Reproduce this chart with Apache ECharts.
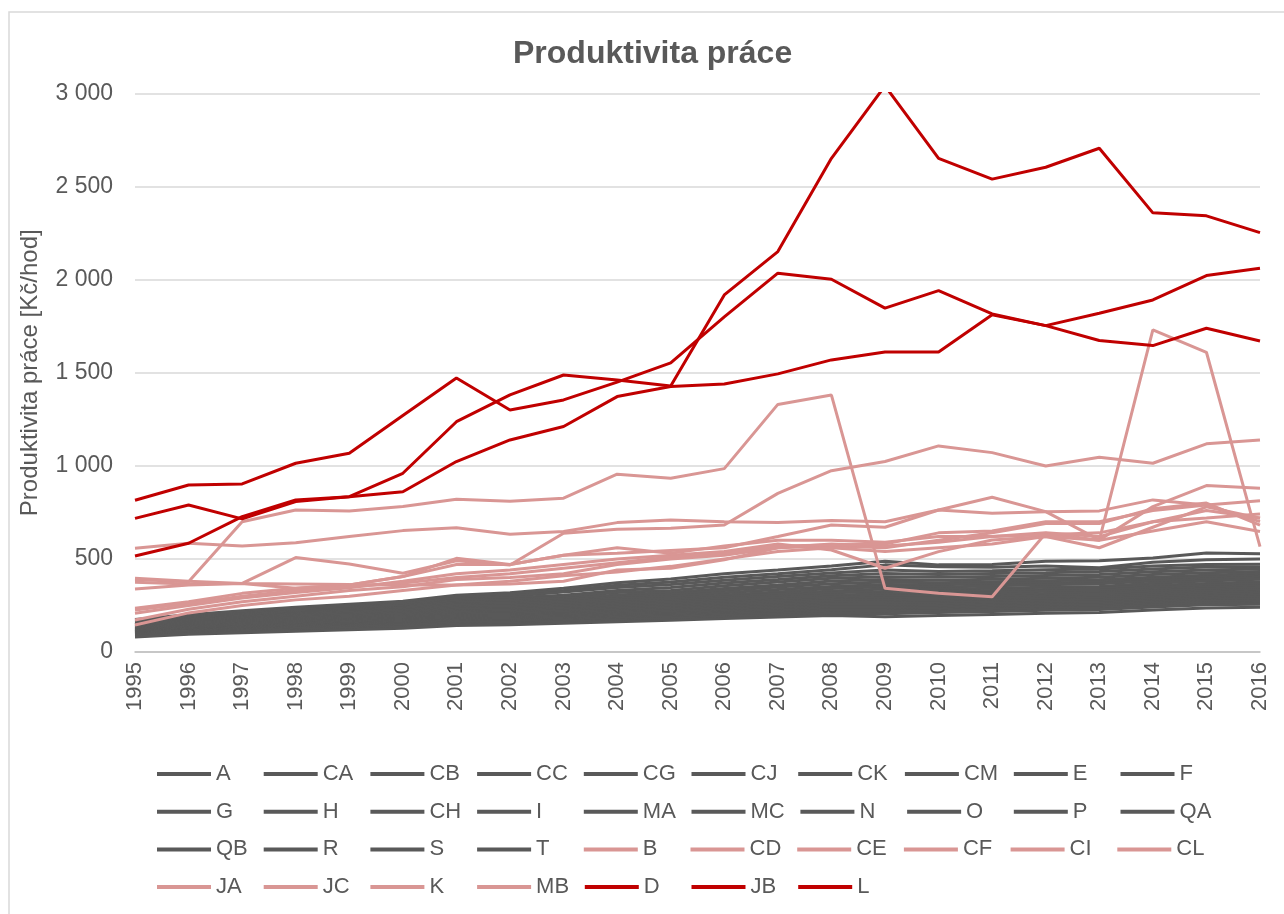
<!DOCTYPE html>
<html>
<head>
<meta charset="utf-8">
<title>Produktivita práce</title>
<script src="https://cdn.jsdelivr.net/npm/echarts@6/dist/echarts.min.js"></script>
<style>
  html, body { margin: 0; padding: 0; background: #fff; }
  #chart { width: 1284px; height: 914px; }
</style>
</head>
<body>
<div id="chart"></div>
<script>
// roky
var years = ["1995","1996","1997","1998","1999","2000","2001","2002","2003","2004","2005",
  "2006","2007","2008","2009","2010","2011","2012","2013","2014","2015","2016"];

// sedive obory
var greyNames = ["A","CA","CB","CC","CG","CJ","CK","CM","E","F","G","H","CH","I","MA","MC","N","O","P","QA","QB","R","S","T"];
var valA  = [175, 200, 222, 240, 256, 272, 305, 318, 342, 372, 392, 420, 440, 462, 488, 468, 470, 488, 490, 505, 532, 528];
var valCA = [166, 193, 214, 233, 250, 266, 298, 312, 330, 358, 376, 402, 420, 442, 468, 458, 455, 462, 452, 482, 495, 500];
var valCB = [160, 186, 205, 226, 240, 256, 290, 300, 322, 346, 362, 386, 406, 425, 440, 432, 436, 442, 446, 462, 470, 472];
var valCC = [151, 180, 200, 218, 233, 248, 280, 291, 305, 331, 346, 371, 390, 410, 421, 416, 421, 426, 432, 446, 456, 457];
var valCG = [146, 175, 195, 210, 225, 241, 275, 281, 296, 320, 331, 356, 376, 396, 404, 401, 406, 411, 416, 431, 441, 446];
var valCJ = [140, 170, 190, 206, 220, 236, 266, 271, 286, 306, 320, 341, 360, 381, 390, 386, 391, 396, 401, 416, 426, 432];
var valCK = [136, 165, 186, 200, 213, 228, 258, 263, 276, 296, 309, 330, 349, 366, 376, 372, 378, 383, 388, 401, 412, 421];
var valCM = [130, 160, 180, 195, 206, 221, 251, 256, 268, 286, 298, 318, 336, 352, 362, 361, 366, 371, 376, 391, 401, 411];
var valE  = [126, 155, 175, 188, 199, 212, 243, 248, 260, 276, 288, 306, 322, 341, 350, 348, 356, 361, 366, 381, 391, 401];
var valF  = [122, 150, 170, 182, 192, 206, 236, 241, 252, 266, 278, 295, 311, 328, 338, 337, 342, 348, 352, 369, 381, 391];
var valG  = [118, 145, 165, 176, 186, 198, 228, 232, 245, 258, 268, 286, 301, 318, 325, 326, 331, 336, 341, 357, 368, 378];
var valH  = [115, 140, 160, 170, 180, 192, 220, 226, 236, 250, 260, 275, 291, 306, 312, 314, 318, 326, 330, 346, 358, 366];
var valCH = [112, 136, 155, 165, 175, 186, 214, 218, 228, 242, 252, 266, 280, 296, 300, 303, 307, 314, 320, 335, 348, 356];
var valI  = [110, 132, 150, 160, 170, 180, 206, 211, 221, 234, 244, 258, 271, 284, 290, 292, 297, 304, 311, 326, 338, 345];
var valMA = [107, 128, 145, 155, 165, 175, 200, 204, 213, 226, 236, 250, 262, 276, 280, 283, 288, 294, 300, 315, 328, 336];
var valMC = [104, 124, 140, 150, 160, 170, 194, 198, 206, 218, 228, 242, 254, 266, 270, 273, 278, 284, 290, 305, 318, 325];
var valN  = [102, 120, 136, 146, 155, 165, 188, 192, 200, 211, 220, 234, 246, 258, 260, 264, 270, 275, 281, 295, 308, 316];
var valO  = [100, 117, 132, 142, 150, 160, 182, 186, 194, 204, 213, 226, 238, 250, 250, 255, 260, 266, 270, 285, 298, 305];
var valP  = [ 97, 114, 128, 138, 146, 155, 176, 180, 188, 198, 206, 218, 230, 242, 242, 246, 252, 258, 262, 276, 288, 295];
var valQA = [ 95, 111, 124, 134, 142, 150, 170, 174, 182, 192, 200, 210, 222, 234, 234, 238, 244, 250, 254, 268, 280, 286];
var valQB = [ 92, 108, 120, 130, 138, 146, 164, 168, 176, 186, 194, 204, 214, 226, 226, 230, 236, 242, 246, 260, 272, 276];
var valR  = [ 90, 105, 116, 126, 134, 142, 158, 162, 170, 180, 188, 198, 206, 218, 218, 222, 228, 234, 238, 252, 264, 266];
var valS  = [ 85, 100, 110, 120, 128, 136, 150, 155, 163, 172, 180, 190, 198, 208, 206, 212, 218, 224, 228, 242, 254, 256];
var valT  = [ 80,  95, 104, 112, 120, 128, 142, 146, 154, 163, 170, 180, 188, 196, 190, 196, 202, 208, 212, 225, 236, 241];
var greyValues = [valA, valCA, valCB, valCC, valCG, valCJ, valCK, valCM, valE, valF, valG, valH,
  valCH, valI, valMA, valMC, valN, valO, valP, valQA, valQB, valR, valS, valT];

// ruzove obory
var pinkNames = ["B","CD","CE","CF","CI","CL","JA","JC","K","MB"];
var valB  = [390, 378, 700, 763, 758, 781, 820, 810, 826, 955, 933, 985, 1330, 1380, 342, 315, 297, 638, 600, 1730, 1610, 566];
var valCD = [375, 365, 369, 507, 473, 423, 490, 467, 638, 659, 665, 682, 852, 974, 1023, 1107, 1071, 999, 1046, 1014, 1118, 1139];
var valCE = [557, 584, 570, 587, 620, 652, 667, 632, 647, 695, 709, 700, 695, 706, 700, 763, 745, 754, 758, 817, 790, 813];
var valCF = [338, 360, 368, 342, 360, 405, 470, 470, 520, 530, 545, 560, 620, 682, 670, 763, 831, 754, 602, 781, 894, 880];
var valCI = [235, 270, 315, 342, 360, 405, 503, 470, 520, 560, 530, 570, 600, 600, 590, 620, 620, 640, 620, 700, 720, 741];
var valCL = [208, 250, 290, 320, 345, 380, 420, 440, 470, 500, 520, 540, 580, 548, 450, 539, 602, 620, 560, 670, 780, 718];
var valJA = [172, 230, 270, 300, 330, 350, 390, 400, 420, 470, 500, 520, 560, 570, 560, 600, 640, 690, 690, 770, 800, 682];
var valJC = [145, 210, 250, 280, 300, 330, 360, 380, 410, 430, 460, 500, 540, 560, 540, 560, 580, 620, 600, 650, 700, 647];
var valK  = [396, 380, 368, 365, 362, 360, 360, 365, 380, 440, 450, 495, 560, 580, 570, 590, 620, 630, 640, 700, 760, 720];
var valMB = [225, 260, 300, 330, 350, 370, 400, 420, 450, 480, 510, 530, 570, 575, 580, 640, 650, 700, 700, 760, 790, 700];
var pinkValues = [valB, valCD, valCE, valCF, valCI, valCL, valJA, valJC, valK, valMB];

// cervene obory
var redNames = ["D","JB","L"];
var valD  = [516, 584, 727, 817, 834, 960, 1237, 1381, 1488, 1461, 1429, 1918, 2151, 2652, 3041, 2651, 2540, 2604, 2706, 2359, 2343, 2253];
var valJB = [815, 897, 903, 1014, 1068, 1270, 1472, 1300, 1354, 1450, 1553, 1800, 2035, 2002, 1847, 1941, 1816, 1753, 1673, 1646, 1739, 1671];
var valL  = [718, 790, 715, 808, 834, 861, 1023, 1139, 1211, 1372, 1426, 1440, 1494, 1569, 1612, 1612, 1811, 1753, 1820, 1891, 2022, 2061];
var redValues = [valD, valJB, valL];

var textColor = "#595959";
var fontName = "Liberation Sans, Arial, sans-serif";

function makeSeries(names, values, color) {
  return names.map(function (n, i) {
    return {
      name: n,
      type: "line",
      data: values[i],
      symbol: "none",
      lineStyle: { color: color, width: 3 },
      itemStyle: { color: color },
      emphasis: { disabled: true }
    };
  });
}

var series = []
  .concat(makeSeries(greyNames, greyValues, "#595959"))
  .concat(makeSeries(pinkNames, pinkValues, "#D99694"))
  .concat(makeSeries(redNames, redValues, "#C00000"));

var chart = echarts.init(document.getElementById("chart"));
chart.setOption({
  animation: false,
  backgroundColor: "#fff",
  textStyle: { fontFamily: fontName },
  graphic: [{
    type: "rect",
    shape: { x: 9, y: 12, width: 1300, height: 930 },
    style: { fill: "none", stroke: "#D9D9D9", lineWidth: 1.5 },
    silent: true
  }],
  title: {
    text: "Produktivita práce",
    left: 508,
    top: 33,
    textStyle: { color: textColor, fontSize: 32, fontWeight: "bold", fontFamily: fontName }
  },
  grid: { left: 135, right: 24, top: 93.5, bottom: 262 },
  xAxis: {
    type: "category",
    data: years,
    boundaryGap: false,
    axisLine: { lineStyle: { color: "#BFBFBF", width: 1.5 } },
    axisTick: { show: false },
    axisLabel: { rotate: 90, color: textColor, fontSize: 22, margin: 10 }
  },
  yAxis: {
    type: "value",
    min: 0,
    max: 3000,
    interval: 500,
    name: "Produktivita práce [Kč/hod]",
    nameLocation: "middle",
    nameRotate: 90,
    nameGap: 93,
    nameTextStyle: { color: textColor, fontSize: 24 },
    axisLine: { show: false },
    axisTick: { show: false },
    splitLine: { lineStyle: { color: "#D9D9D9", width: 1.5 } },
    axisLabel: {
      color: textColor,
      fontSize: 23,
      margin: 22,
      formatter: function (v) {
        if (v >= 1000) {
          return Math.floor(v / 1000) + " " + String(v % 1000).padStart(3, "0");
        }
        return String(v);
      }
    }
  },
  legend: {
    left: 152,
    top: 758,
    width: 1085,
    icon: "rect",
    itemWidth: 54,
    itemHeight: 4,
    itemGap: 15.7,
    textStyle: { color: textColor, fontSize: 22, width: 32, lineHeight: 22, overflow: "none" },
    data: greyNames.concat(pinkNames).concat(redNames)
  },
  series: series
});
</script>
</body>
</html>
